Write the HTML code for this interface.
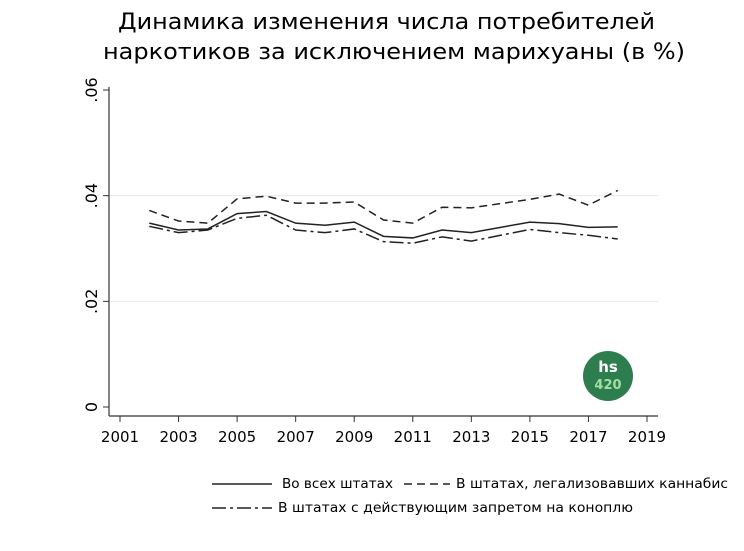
<!DOCTYPE html>
<html><head><meta charset="utf-8"><style>
body{margin:0;background:#fff;font-family:"DejaVu Sans","Liberation Sans",sans-serif;}
</style></head><body>
<svg width="744" height="547" xmlns="http://www.w3.org/2000/svg" id="c" font-family="DejaVu Sans, Liberation Sans, sans-serif">
<text x="118" y="29" font-size="22" textLength="537" lengthAdjust="spacingAndGlyphs">Динамика изменения числа потребителей</text>
<text x="103" y="59" font-size="22" textLength="582" lengthAdjust="spacingAndGlyphs">наркотиков за исключением марихуаны (в %)</text>
<g id="grid"></g><g id="axes"></g><g id="series"></g>
<g>
<circle cx="608" cy="376" r="25" fill="#2e7d4f"/>
<text x="608" y="372" text-anchor="middle" font-size="15" fill="#fff" font-weight="bold">hs</text>
<text x="608" y="389" text-anchor="middle" font-size="13" fill="#9fe0a0" font-weight="bold">420</text>
</g>
<g font-size="13">
<line x1="212" y1="484" x2="272" y2="484" stroke="#222" stroke-width="1.5"/>
<text x="282" y="488" textLength="111" lengthAdjust="spacingAndGlyphs">Во всех штатах</text>
<line x1="404" y1="484" x2="450" y2="484" stroke="#222" stroke-width="1.5" stroke-dasharray="8,5"/>
<text x="456" y="488" textLength="272" lengthAdjust="spacingAndGlyphs">В штатах, легализовавших каннабис</text>
<line x1="212" y1="508" x2="272" y2="508" stroke="#222" stroke-width="1.5" stroke-dasharray="14,4,3,4"/>
<text x="278" y="512" textLength="355" lengthAdjust="spacingAndGlyphs">В штатах с действующим запретом на коноплю</text>
</g>
</svg>
<script>
const years=[2002,2003,2004,2005,2006,2007,2008,2009,2010,2011,2012,2013,2014,2015,2016,2017,2018];
const allStates=[.0348,.0335,.0337,.0366,.0370,.0348,.0344,.0350,.0323,.0320,.0335,.0330,.0340,.0350,.0347,.0340,.0341];
const legalStates=[.0372,.0352,.0348,.0394,.0399,.0386,.0386,.0388,.0354,.0348,.0378,.0377,.0385,.0393,.0403,.0382,.0410];
const banStates=[.0342,.0330,.0335,.0357,.0363,.0335,.0330,.0337,.0313,.0310,.0322,.0314,.0325,.0336,.0330,.0325,.0318];
const yTicks=[0,.02,.04,.06];
const yTickLabels=["0",".02",".04",".06"];
const xTicks=[2001,2003,2005,2007,2009,2011,2013,2015,2017,2019];
const NS="http://www.w3.org/2000/svg";
const X=v=>120+(v-2001)*(647-120)/18;
const Y=v=>407-v*(407-90)/0.06;
function mk(p,t,a){const e=document.createElementNS(NS,t);for(const k in a)e.setAttribute(k,a[k]);p.appendChild(e);return e;}
const g=document.getElementById('grid'),ax=document.getElementById('axes'),s=document.getElementById('series');
yTicks.forEach((v,i)=>{
 if(v>0&&v<.06){const l=mk(g,'line',{x1:110,x2:658,y1:Y(v),y2:Y(v),stroke:'#e8e8e8','stroke-width':1});
 
 }
 mk(ax,'line',{x1:103,x2:109,y1:Y(v),y2:Y(v),stroke:'#333'});
 const t=mk(ax,'text',{x:0,y:0,'font-size':16,'text-anchor':'middle',transform:`translate(97,${Y(v)}) rotate(-90)`});
 t.textContent=yTickLabels[i];
 
 
});
mk(ax,'line',{x1:109,x2:109,y1:Y(.06)-3,y2:416,stroke:'#333','stroke-width':1.2});
mk(ax,'line',{x1:109,x2:658,y1:416,y2:416,stroke:'#333','stroke-width':1.2});
xTicks.forEach(v=>{
 mk(ax,'line',{x1:X(v),x2:X(v),y1:416,y2:422,stroke:'#333'});
 const t=mk(ax,'text',{x:X(v),y:442,'font-size':15,'text-anchor':'middle'});
 t.textContent=v;
 
 
});
function line(d,dash,name){
 const p=mk(s,'polyline',{points:d.map((v,i)=>X(years[i])+','+Y(v)).join(' '),fill:'none',stroke:'#222','stroke-width':1.5,'stroke-dasharray':dash});
 
 
}
line(allStates,'none','series-all-states');
line(legalStates,'8,5','series-legalized');
line(banStates,'14,4,3,4','series-prohibition');
</script>
</body></html>
